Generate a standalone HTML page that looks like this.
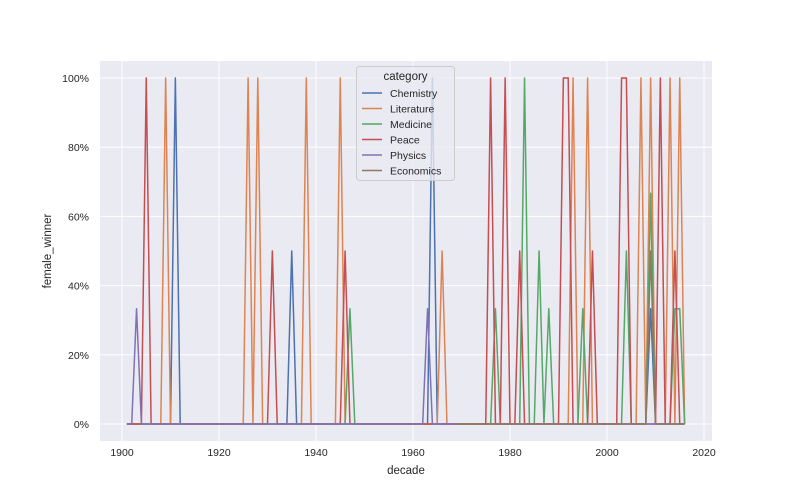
<!DOCTYPE html>
<html><head><meta charset="utf-8"><style>
body{margin:0;background:#fff;}
svg{display:block;font-family:"Liberation Sans","DejaVu Sans",sans-serif;}
</style></head><body>
<svg id="chart" width="792" height="504"></svg>
<script>
const categories = ["Chemistry","Literature","Medicine","Peace","Physics","Economics"];
const colors = ["#4c72b0","#dd8452","#55a868","#c44e52","#8172b3","#937860"];
const startYears = [1901,1901,1901,1901,1901,1969];
const endYear = 2016;
// non-zero female-winner shares [year, share]
const chemistryPeaks = [[1911,1],[1935,0.5],[1964,1],[2009,0.333]];
const literaturePeaks = [[1909,1],[1926,1],[1928,1],[1938,1],[1945,1],[1966,0.5],[1993,1],[1996,1],[2007,1],[2009,1],[2013,1],[2015,1]];
const medicinePeaks = [[1947,0.333],[1977,0.333],[1983,1],[1986,0.5],[1988,0.333],[1995,0.333],[2004,0.5],[2009,0.667],[2014,0.333],[2015,0.333]];
const peacePeaks = [[1905,1],[1931,0.5],[1946,0.5],[1976,1],[1979,1],[1982,0.5],[1991,1],[1992,1],[1997,0.5],[2003,1],[2004,1],[2011,1],[2014,0.5]];
const physicsPeaks = [[1903,0.333],[1963,0.333]];
const economicsPeaks = [[2009,0.5]];
const xTicks = [1900,1920,1940,1960,1980,2000,2020];
const yTicks = [0,0.2,0.4,0.6,0.8,1.0];
const yTickLabels = ["0%","20%","40%","60%","80%","100%"];

const NS="http://www.w3.org/2000/svg";
const svg=document.getElementById('chart');
const L=100,R=712,T=61,B=441;
const xs=y=>122+(y-1900)*(704-122)/120;
const ys=v=>424-v*(424-78);
function mk(t,a,p){const e=document.createElementNS(NS,t);for(const k in a)e.setAttribute(k,a[k]);(p||svg).appendChild(e);return e;}

const bg=mk('rect',{x:L,y:T,width:R-L,height:B-T,fill:'#eaeaf2'});


xTicks.forEach(t=>{
  const g=mk('line',{x1:xs(t),x2:xs(t),y1:T,y2:B,stroke:'#fff','stroke-width':1});
  
  
  const tx=mk('text',{x:xs(t),y:456,'text-anchor':'middle','font-size':'10.5',fill:'#262626'});
  tx.textContent=t;
  
  
});
yTicks.forEach((t,i)=>{
  const g=mk('line',{x1:L,x2:R,y1:ys(t),y2:ys(t),stroke:'#fff','stroke-width':1});
  
  
  const tx=mk('text',{x:89,y:ys(t)+4,'text-anchor':'end','font-size':'10.5',fill:'#262626'});
  tx.textContent=yTickLabels[i];
  
  
});
const peaks=[chemistryPeaks,literaturePeaks,medicinePeaks,peacePeaks,physicsPeaks,economicsPeaks];
categories.forEach((c,i)=>{
  const m={};peaks[i].forEach(p=>m[p[0]]=p[1]);
  let d='';
  for(let y=startYears[i];y<=endYear;y++){const v=m[y]||0;d+=(d?'L':'M')+xs(y).toFixed(2)+','+ys(v).toFixed(2);}
  const p=mk('path',{d:d,fill:'none',stroke:colors[i],'stroke-width':1.5,'stroke-linejoin':'round'});
  
  
});
// legend
const lg=mk('g',{});


mk('rect',{x:356.5,y:66.5,width:98,height:114,rx:3,fill:'#eaeaf2','fill-opacity':0.8,stroke:'#cccccc'},lg);
const lt=mk('text',{x:405.5,y:80,'text-anchor':'middle','font-size':'11.5',fill:'#262626'},lg);
lt.textContent='category';


categories.forEach((c,i)=>{
  const y=93+i*15.5;
  const ln=mk('line',{x1:362,x2:382,y1:y,y2:y,stroke:colors[i],'stroke-width':1.5},lg);
  
  
  const t=mk('text',{x:390,y:y+4,'font-size':'10.5',fill:'#262626'},lg);
  t.textContent=c;
  
  
});
const xl=mk('text',{x:406,y:474,'text-anchor':'middle','font-size':'11.5',fill:'#262626'});
xl.textContent='decade';


const yl=mk('text',{x:51,y:251,'text-anchor':'middle','font-size':'11.5',fill:'#262626',transform:'rotate(-90 51 251)'});
yl.textContent='female_winner';


</script>
</body></html>
